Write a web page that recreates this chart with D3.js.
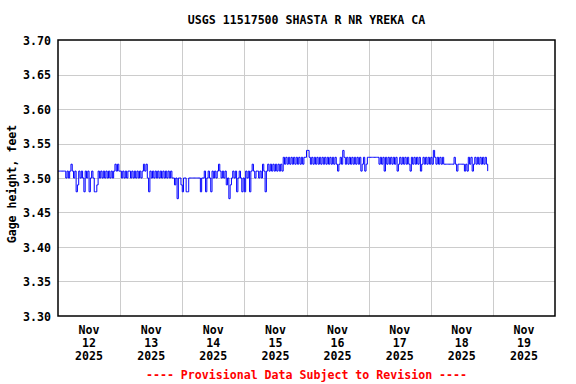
<!DOCTYPE html>
<html lang="en">
<head>
  <meta charset="utf-8">
  <title>USGS 11517500 SHASTA R NR YREKA CA</title>
  <script src="https://d3js.org/d3.v7.min.js"></script>
  <style>
    body { margin: 0; background: #fff; }
    text { font-family: "DejaVu Sans Mono", monospace; font-weight: bold; font-size: 11.6px; }
  </style>
</head>
<body>
  <div id="chart"></div>
  <script>
    // half-hourly gage height readings (feet), starting at midnight of each day
    var nov12 = [3.51,3.51,3.51,3.51,3.51,3.51,3.50,3.51,3.50,3.51,3.52,3.51,3.50,3.51,3.48,3.49,
                 3.51,3.50,3.51,3.50,3.48,3.51,3.50,3.51,3.48,3.50,3.51,3.50,3.48,3.48,3.49,3.51,
                 3.50,3.51,3.50,3.51,3.50,3.51,3.50,3.51,3.50,3.51,3.50,3.51,3.52,3.51,3.52,3.51];
    var nov13 = [3.51,3.50,3.51,3.50,3.51,3.50,3.51,3.51,3.50,3.51,3.50,3.51,3.50,3.51,3.50,3.51,
                 3.50,3.51,3.52,3.51,3.52,3.50,3.48,3.51,3.50,3.51,3.50,3.51,3.50,3.51,3.50,3.51,
                 3.50,3.51,3.50,3.51,3.50,3.51,3.50,3.51,3.50,3.50,3.49,3.50,3.47,3.50,3.50,3.49];
    var nov14 = [3.48,3.50,3.50,3.48,3.48,3.50,3.50,3.50,3.50,3.50,3.50,3.50,3.50,3.50,3.48,3.50,
                 3.50,3.51,3.48,3.50,3.51,3.50,3.48,3.51,3.50,3.51,3.50,3.51,3.52,3.51,3.50,3.51,
                 3.50,3.51,3.49,3.50,3.47,3.49,3.50,3.51,3.50,3.51,3.48,3.50,3.51,3.50,3.48,3.50];
    var nov15 = [3.48,3.51,3.50,3.51,3.48,3.51,3.52,3.51,3.50,3.51,3.51,3.50,3.51,3.50,3.52,3.51,
                 3.48,3.51,3.52,3.51,3.52,3.51,3.52,3.51,3.52,3.51,3.52,3.51,3.52,3.51,3.53,3.52,
                 3.53,3.52,3.53,3.52,3.53,3.52,3.53,3.52,3.53,3.52,3.53,3.52,3.53,3.52,3.53,3.53];
    var nov16 = [3.54,3.54,3.53,3.52,3.53,3.52,3.53,3.52,3.53,3.52,3.53,3.52,3.53,3.52,3.53,3.52,
                 3.53,3.52,3.53,3.52,3.53,3.52,3.53,3.52,3.51,3.52,3.53,3.52,3.54,3.53,3.52,3.53,
                 3.52,3.53,3.52,3.53,3.52,3.53,3.52,3.53,3.52,3.53,3.51,3.52,3.53,3.51,3.52,3.53];
    var nov17 = [3.53,3.53,3.53,3.53,3.53,3.53,3.53,3.53,3.52,3.53,3.52,3.53,3.51,3.53,3.52,3.53,
                 3.52,3.53,3.52,3.53,3.52,3.53,3.51,3.52,3.53,3.52,3.53,3.52,3.53,3.52,3.53,3.52,
                 3.51,3.53,3.52,3.53,3.52,3.53,3.52,3.53,3.51,3.52,3.53,3.52,3.53,3.52,3.53,3.52];
    var nov18 = [3.53,3.52,3.54,3.53,3.52,3.53,3.52,3.53,3.52,3.53,3.52,3.52,3.52,3.52,3.52,3.52,
                 3.52,3.52,3.53,3.52,3.51,3.52,3.52,3.52,3.52,3.52,3.51,3.52,3.51,3.53,3.52,3.53,
                 3.51,3.52,3.53,3.52,3.53,3.52,3.53,3.52,3.53,3.52,3.53,3.52,3.51];

    var days = [12, 13, 14, 15, 16, 17, 18, 19];
    var yTicks = [3.30, 3.35, 3.40, 3.45, 3.50, 3.55, 3.60, 3.65, 3.70];

    var w = 576, h = 384;
    var plotL = 58, plotR = 555, plotT = 40, plotB = 316;

    var svg = d3.select("#chart").append("svg")
      .attr("width", w)
      .attr("height", h);

    var x = d3.scaleUtc()
      .domain([new Date(Date.UTC(2025, 10, 12)), new Date(Date.UTC(2025, 10, 20))])
      .range([plotL, plotR]);

    var y = d3.scaleLinear()
      .domain([3.30, 3.70])
      .range([plotB, plotT]);

    // flatten the day arrays into timestamped points (30 min apart)
    var data = [];
    [nov12, nov13, nov14, nov15, nov16, nov17, nov18].forEach(function (vals, i) {
      vals.forEach(function (v, k) {
        data.push({ t: new Date(Date.UTC(2025, 10, 12 + i, 0, k * 30)), v: v });
      });
    });

    // grid
    var grid = svg.append("g").attr("stroke", "#cccccc").attr("stroke-width", 1);
    grid.selectAll(".hg")
      .data(yTicks.slice(1, -1))
      .enter().append("line")
      .attr("x1", plotL).attr("x2", plotR)
      .attr("y1", d => Math.round(y(d)) + 0.5)
      .attr("y2", d => Math.round(y(d)) + 0.5);
    grid.selectAll(".vg")
      .data(x.ticks(d3.utcDay).slice(1, -1))
      .enter().append("line")
      .attr("y1", plotT).attr("y2", plotB)
      .attr("x1", d => Math.round(x(d)) + 0.5)
      .attr("x2", d => Math.round(x(d)) + 0.5);

    // data line
    var line = d3.line()
      .x(d => x(d.t))
      .y(d => y(d.v))
      .curve(d3.curveStepAfter);

    svg.append("path")
      .datum(data)
      .attr("fill", "none")
      .attr("stroke", "#0000ff")
      .attr("stroke-width", 1)
      .attr("d", line);

    // frame
    svg.append("rect")
      .attr("x", plotL).attr("y", plotT)
      .attr("width", plotR - plotL).attr("height", plotB - plotT)
      .attr("fill", "none")
      .attr("stroke", "#000")
      .attr("stroke-width", 1.5);

    // y tick labels
    svg.selectAll(".ytl")
      .data(yTicks)
      .enter().append("text")
      .attr("x", 51)
      .attr("y", d => y(d) + 4.5)
      .attr("text-anchor", "end")
      .text(d => d3.format(".2f")(d));

    // x labels centered on each day
    var xl = svg.selectAll(".xtl")
      .data(days)
      .enter().append("text")
      .attr("text-anchor", "middle");
    xl.each(function (d) {
      var cx = x(new Date(Date.UTC(2025, 10, d, 12)));
      var t = d3.select(this);
      t.append("tspan").attr("x", cx).attr("y", 334).text("Nov");
      t.append("tspan").attr("x", cx).attr("y", 347).text(d);
      t.append("tspan").attr("x", cx).attr("y", 360).text("2025");
    });

    // axis title
    svg.append("text")
      .attr("transform", "translate(16," + 184 + ") rotate(-90)")
      .attr("text-anchor", "middle")
      .text("Gage height, feet");

    // chart title
    svg.append("text")
      .attr("x", (plotL + plotR) / 2)
      .attr("y", 24)
      .attr("text-anchor", "middle")
      .text("USGS 11517500 SHASTA R NR YREKA CA");

    // footer
    svg.append("text")
      .attr("x", (plotL + plotR) / 2)
      .attr("y", 379)
      .attr("text-anchor", "middle")
      .attr("fill", "#ff0000")
      .text("---- Provisional Data Subject to Revision ----");
  </script>
</body>
</html>
